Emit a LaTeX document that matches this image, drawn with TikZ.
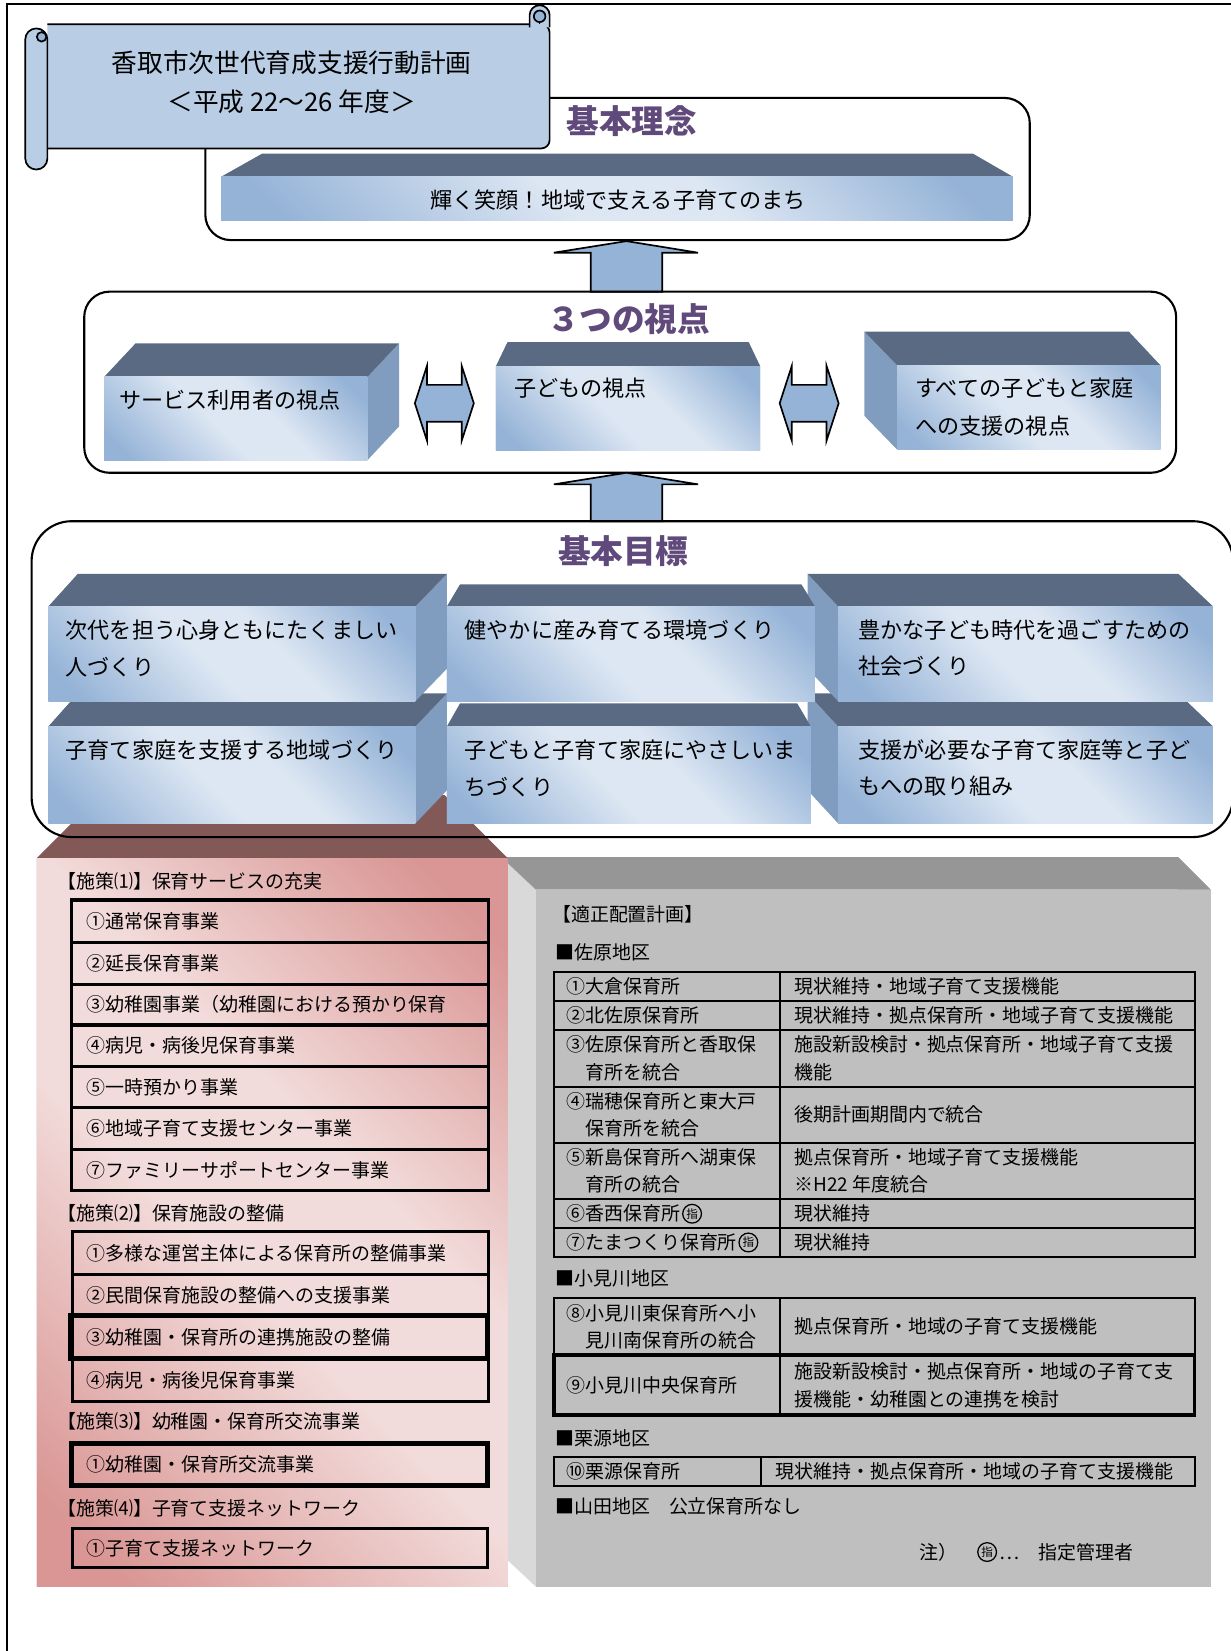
\documentclass[tikz,border=0pt]{standalone}
\usepackage{graphicx}
\usepackage{fontspec}
\setmainfont{Noto Sans CJK JP}
\usepackage{tikz}
\usetikzlibrary{calc}

\definecolor{scrollblue}{RGB}{185,205,229}
\definecolor{scrolldark}{RGB}{149,179,215}
\definecolor{titlepurple}{RGB}{96,74,123}
\definecolor{slate}{RGB}{90,106,130}
\definecolor{sideblue}{RGB}{128,156,190}
\definecolor{frontdark}{RGB}{149,179,215}
\definecolor{frontlight}{RGB}{221,231,243}
\definecolor{arrowblue}{RGB}{149,179,215}
\definecolor{pinkdark}{RGB}{217,150,148}
\definecolor{pinklight}{RGB}{242,220,219}
\definecolor{pinktop}{RGB}{131,89,88}
\definecolor{greytop}{RGB}{150,150,150}
\definecolor{greyside}{RGB}{217,217,217}
\definecolor{greyfront}{RGB}{191,191,191}

\pgfdeclarehorizontalshading{bluefront}{100bp}{color(0bp)=(frontdark); color(20bp)=(frontdark); color(45bp)=(frontlight); color(58bp)=(frontlight); color(80bp)=(frontdark); color(100bp)=(frontdark)}
\pgfdeclarehorizontalshading{pinkfront}{100bp}{color(0bp)=(pinkdark); color(20bp)=(pinkdark); color(45bp)=(pinklight); color(58bp)=(pinklight); color(80bp)=(pinkdark); color(100bp)=(pinkdark)}

\tikzset{
  panel/.style={draw=black, line width=1pt},
  scroll/.style={draw=black, line width=0.8pt, fill=scrollblue},
  blockarrow/.style={draw=black, line width=0.8pt, fill=arrowblue},
  blue top/.style={fill=slate},
  blue side/.style={fill=sideblue},
  blue front/.style={shade, shading=bluefront, shading angle=45},
  pink top/.style={fill=pinktop},
  pink side/.style={fill=pinktop},
  pink front/.style={shade, shading=pinkfront, shading angle=45},
  grey top/.style={fill=greytop},
  grey side/.style={fill=greyside},
  grey front/.style={fill=greyfront},
  heading/.style={inner sep=0pt, text=titlepurple, font=\fontsize{15.5}{18}\selectfont\bfseries},
  boxtext/.style={inner sep=0pt, anchor=west, align=left, font=\fontsize{10.5}{17.5}\selectfont},
  itemtext/.style={inner sep=0pt, anchor=west, align=left, font=\fontsize{9}{13}\selectfont},
  shiteimark/.style={circle, draw=black, line width=0.6pt, inner sep=0.5pt, anchor=west, font=\fontsize{5.5}{5.5}\selectfont},
  listbox/.style={draw=black, line width=1.5pt},
  cell/.style={draw=black, line width=1pt}
}

% front corners, then back offsets (left, right) and depth
\newcommand{\drawcube}[8]{%
  \path[#1 side] (#2,#3) -- ({#2+(#6)},{#3-(#8)}) -- ({#2+(#6)},{#5-(#8)}) -- (#2,#5) -- cycle;
  \path[#1 side] (#4,#3) -- ({#4+(#7)},{#3-(#8)}) -- ({#4+(#7)},{#5-(#8)}) -- (#4,#5) -- cycle;
  \path[#1 top] (#2,#3) -- ({#2+(#6)},{#3-(#8)}) -- ({#4+(#7)},{#3-(#8)}) -- (#4,#3) -- cycle;
  \path[#1 front] (#2,#3) rectangle (#4,#5);
}
\newcommand{\bigarrowup}[2]{%
  \draw[blockarrow] ($(#2)+(-34,0)$) -- ($(#1)+(-34,11)$) -- ($(#1)+(-69,11)$) -- (#1)
    -- ($(#1)+(68,11)$) -- ($(#1)+(34,11)$) -- ($(#2)+(34,0)$) -- cycle;
}
\newcommand{\twoheaded}[1]{%
  \draw[blockarrow] ($(#1)+(-28,0)$) -- ($(#1)+(-16.5,-35.5)$) -- ($(#1)+(-16.5,-17.5)$)
    -- ($(#1)+(16.5,-17.5)$) -- ($(#1)+(16.5,-35.5)$) -- ($(#1)+(28,0)$)
    -- ($(#1)+(16.5,35.5)$) -- ($(#1)+(16.5,17.5)$) -- ($(#1)+(-16.5,17.5)$)
    -- ($(#1)+(-16.5,35.5)$) -- cycle;
}

\begin{document}
\begin{tikzpicture}[x=0.5pt, y=-0.5pt]
\useasboundingbox (0,0) rectangle (1169,1568);
\draw[line width=1pt] (7,1568) -- (7,4) -- (1169,4);

% 基本理念
\draw[panel, rounded corners=12pt] (195,93) rectangle (978,228);
\drawcube{blue}{210}{168}{962}{209}{39}{-38}{22}
\node[heading] (rinenhead) at (600,115) {基本理念};
\node[boxtext, anchor=center] (rinentext) at (587,190) {輝く笑顔！地域で支える子育てのまち};

% scroll banner
\draw[scroll, rounded corners=4pt] (45,23) -- (522,23) -- (522,141) -- (45,141);
\draw[scroll, rounded corners=4.7pt] (503,26) -- (503,5) -- (522,5) -- (522,26);
\draw[line width=0.8pt, fill=scrolldark] (512.5,15.5) circle[radius=5.5];
\draw[line width=0.8pt] (512.5,21) -- (512.5,23);
\draw[scroll, rounded corners=5.2pt] (24,27) rectangle (45,161);
\draw[line width=0.8pt, fill=scrolldark] (39.5,35) circle[radius=4.5];
\node[inner sep=0pt, align=center, font=\fontsize{12.2}{18.5}\selectfont] (plantitle) at (277,78.5)
  {香取市次世代育成支援行動計画\\＜平成 22～26 年度＞};

% 3つの視点
\coordinate (rinenfoot) at (595,229);
\coordinate (shitentop) at (595,277);
\bigarrowup{rinenfoot}{shitentop}
\draw[panel, rounded corners=12pt] (80,277) rectangle (1117,449);
\node[heading] (shitenhead) at (597,303) {３つの視点};
\drawcube{blue}{99}{358}{349}{437}{30}{30}{32}
\drawcube{blue}{471}{348}{722}{428}{11}{-11}{23}
\drawcube{blue}{852}{347}{1102}{427}{-31}{-30}{32}
\node[boxtext] (viewA) at (113,380) {サービス利用者の視点};
\node[boxtext] (viewB) at (488,369) {子どもの視点};
\node[boxtext, font=\fontsize{10.5}{18}\selectfont] (viewC) at (869,387) {すべての子どもと家庭\\への支援の視点};
\coordinate (gapAB) at (422,383);
\coordinate (gapBC) at (768.5,383);
\twoheaded{gapAB}
\twoheaded{gapBC}

% bottom blocks
\drawcube{grey}{509}{845}{1150}{1507}{-33}{-31}{31}
\drawcube{pink}{35}{815}{482}{1507}{60}{-60}{60}

% 基本目標
\coordinate (shitenfoot) at (595,449);
\coordinate (mokuhyotop) at (595,495);
\bigarrowup{shitenfoot}{mokuhyotop}
\draw[panel, rounded corners=19pt] (30,495) rectangle (1171,795);
\node[heading] (mokuhyohead) at (592,523) {基本目標};
\drawcube{blue}{796}{690}{1152}{782}{-29}{-33}{31.5}
\drawcube{blue}{424.5}{690}{770}{782}{12.5}{-13}{22}
\drawcube{blue}{46}{690}{394.5}{782}{28}{30}{31.5}
\drawcube{blue}{796}{576}{1152}{666}{-29}{-33}{31}
\drawcube{blue}{424.5}{576}{774}{666}{12.5}{-13}{21}
\drawcube{blue}{46}{576}{394.5}{666}{28}{30}{31}
\node[boxtext] (goal1) at (62,615.5) {次代を担う心身ともにたくましい\\人づくり};
\node[boxtext] (goal2) at (441,598) {健やかに産み育てる環境づくり};
\node[boxtext] (goal3) at (815,615.5) {豊かな子ども時代を過ごすための\\社会づくり};
\node[boxtext] (goal4) at (62,712) {子育て家庭を支援する地域づくり};
\node[boxtext] (goal5) at (441,729.5) {子どもと子育て家庭にやさしいま\\ちづくり};
\node[boxtext] (goal6) at (815,729.5) {支援が必要な子育て家庭等と子ど\\もへの取り組み};

% 施策
\draw[listbox] (68,854.7) rectangle (464,1131);
\foreach \y in {894.9,934.6,973.4,1013,1052,1091.5}
  \draw[listbox] (68,\y) -- (464,\y);
\node[itemtext] (sec1) at (54,837) {【施策⑴】保育サービスの充実};
\node[itemtext] (sec1a) at (82,874.8) {①通常保育事業};
\node[itemtext] (sec1b) at (82,914.8) {②延長保育事業};
\node[itemtext] (sec1c) at (82,954) {③幼稚園事業（幼稚園における預かり保育};
\node[itemtext] (sec1d) at (82,993.2) {④病児・病後児保育事業};
\node[itemtext] (sec1e) at (82,1032.5) {⑤一時預かり事業};
\node[itemtext] (sec1f) at (82,1071.8) {⑥地域子育て支援センター事業};
\node[itemtext] (sec1g) at (82,1111.3) {⑦ファミリーサポートセンター事業};

\draw[listbox, line width=1.4pt] (69,1170) rectangle (464,1331);
\draw[listbox, line width=1.4pt] (69,1210) -- (464,1210);
\draw[listbox, line width=2.2pt] (67,1249.5) rectangle (463,1290);
\node[itemtext] (sec2) at (54,1152) {【施策⑵】保育施設の整備};
\node[itemtext] (sec2a) at (82,1190) {①多様な運営主体による保育所の整備事業};
\node[itemtext] (sec2b) at (82,1230) {②民間保育施設の整備への支援事業};
\node[itemtext] (sec2c) at (82,1270) {③幼稚園・保育所の連携施設の整備};
\node[itemtext] (sec2d) at (82,1310.5) {④病児・病後児保育事業};

\draw[listbox, line width=2.2pt] (68,1370.7) rectangle (463,1411);
\node[itemtext] (sec3) at (54,1350) {【施策⑶】幼稚園・保育所交流事業};
\node[itemtext] (sec3a) at (82,1391) {①幼稚園・保育所交流事業};

\draw[listbox, line width=1.3pt] (69,1451.5) rectangle (463,1489);
\node[itemtext] (sec4) at (54,1432.5) {【施策⑷】子育て支援ネットワーク};
\node[itemtext] (sec4a) at (82,1470) {①子育て支援ネットワーク};

% 適正配置計画
\node[itemtext] (plan) at (524,868) {【適正配置計画】};
\node[itemtext] (sawara) at (527,904) {■佐原地区};
\draw[cell] (526,923) rectangle (1134.5,1193.5);
\draw[cell] (740.5,923) -- (740.5,1193.5);
\foreach \y in {950.6,978.2,1032,1085.2,1139,1166.5}
  \draw[cell] (526,\y) -- (1134.5,\y);
\node[itemtext] (n1) at (538,936.7) {①大倉保育所};
\node[itemtext] (m1) at (754,936.7) {現状維持・地域子育て支援機能};
\node[itemtext] (n2) at (538,964.4) {②北佐原保育所};
\node[itemtext] (m2) at (754,964.4) {現状維持・拠点保育所・地域子育て支援機能};
\node[itemtext] (n3) at (538,1005) {③佐原保育所と香取保\\　育所を統合};
\node[itemtext] (m3) at (754,1005) {施設新設検討・拠点保育所・地域子育て支援\\機能};
\node[itemtext] (n4) at (538,1058.6) {④瑞穂保育所と東大戸\\　保育所を統合};
\node[itemtext] (m4) at (754,1058.6) {後期計画期間内で統合};
\node[itemtext] (n5) at (538,1112) {⑤新島保育所へ湖東保\\　育所の統合};
\node[itemtext] (m5) at (754,1112) {拠点保育所・地域子育て支援機能\\※H22 年度統合};
\node[itemtext] (n6) at (538,1152.7) {⑥香西保育所};
\node[shiteimark] (k6) at ($(n6.east)+(1,0)$) {指};
\node[itemtext] (m6) at (754,1152.7) {現状維持};
\node[itemtext] (n7) at (538,1180) {⑦たまつくり保育所};
\node[shiteimark] (k7) at ($(n7.east)+(1,0)$) {指};
\node[itemtext] (m7) at (754,1180) {現状維持};

\node[itemtext] (omigawa) at (527,1214) {■小見川地区};
\draw[cell] (526,1233) rectangle (1134.5,1344);
\draw[cell] (740.5,1233) -- (740.5,1344);
\draw[cell, line width=1.8pt] (526,1287) rectangle (1134.5,1344);
\node[itemtext] (n8) at (538,1260) {⑧小見川東保育所へ小\\　見川南保育所の統合};
\node[itemtext] (m8) at (754,1260) {拠点保育所・地域の子育て支援機能};
\node[itemtext] (n9) at (538,1315.5) {⑨小見川中央保育所};
\node[itemtext] (m9) at (754,1315.5) {施設新設検討・拠点保育所・地域の子育て支\\援機能・幼稚園との連携を検討};

\node[itemtext] (kurimoto) at (527,1366) {■栗源地区};
\draw[cell] (526,1384) rectangle (1134.5,1411);
\draw[cell] (722.7,1384) -- (722.7,1411);
\node[itemtext] (n10) at (538,1397.5) {⑩栗源保育所};
\node[itemtext] (m10) at (736,1397.5) {現状維持・拠点保育所・地域の子育て支援機能};

\node[itemtext] (yamada) at (527,1431) {■山田地区　公立保育所なし};
\node[itemtext] (note) at (873,1474) {注）};
\node[shiteimark] (notemark) at (928,1474) {指};
\node[itemtext] (notetext) at ($(notemark.east)+(2,0)$) {…　指定管理者};
\end{tikzpicture}
\end{document}
